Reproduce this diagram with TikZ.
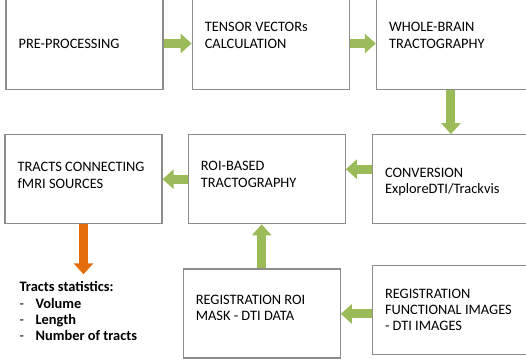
\documentclass[tikz,border=0pt]{standalone}
\usepackage{fontspec}
\setmainfont{Carlito}
\usepackage{tikz}
\usetikzlibrary{arrows.meta,positioning}
\definecolor{boxgray}{RGB}{140,140,140}
\definecolor{arrgreen}{RGB}{155,187,89}
\definecolor{arrorange}{RGB}{228,108,10}

\begin{document}
\begin{tikzpicture}[
    x=1pt, y=1pt,
    node distance=44pt and 26pt,
    every node/.style={font=\fontsize{14.4}{16.4}\selectfont},
    stage/.style={rectangle, draw=boxgray, line width=1.2pt, minimum width=157pt, minimum height=89pt, inner sep=0pt},
    intext/.style={align=left, anchor=west, inner sep=0pt, xshift=13pt},
    stats/.style={align=left, inner sep=0pt},
    garr/.style={-{Triangle[width=19pt,length=11pt]}, line width=9pt, arrgreen},
    oarr/.style={-{Triangle[width=19pt,length=11pt]}, line width=9pt, arrorange}
]
    \useasboundingbox (0,0) rectangle (526,-358);

    % first row
    \node[stage, minimum height=92pt, label={[intext]west:PRE-PROCESSING}] (pre) at (84.5,-43.5) {};
    \node[stage, minimum height=92pt, right=28pt of pre, label={[intext, yshift=8pt]west:TENSOR VECTORs\\CALCULATION}] (tensor) {};
    \node[stage, minimum height=92pt, right=of tensor, label={[intext, yshift=8pt]west:WHOLE-BRAIN\\TRACTOGRAPHY}] (whole) {};

    % second row
    \node[stage, below=of whole, xshift=-4pt, label={[intext, yshift=-2.5pt]west:CONVERSION\\ExploreDTI/Trackvis}] (conv) {};
    \node[stage, left=of conv, label={[intext, yshift=5pt]west:ROI-BASED\\TRACTOGRAPHY}] (roi) {};
    \node[stage, left=25pt of roi, label={[intext, yshift=4pt]west:TRACTS CONNECTING\\fMRI SOURCES}] (tracts) {};

    % third row
    \node[stage, below=of roi, xshift=-5pt, label={[intext, yshift=5.5pt]west:REGISTRATION ROI\\MASK - DTI DATA}] (regroi) {};
    \node[stage, right=31pt of regroi, yshift=3.5pt, label={[intext]west:REGISTRATION\\FUNCTIONAL IMAGES\\- DTI IMAGES}] (func) {};

    \node[stats, anchor=north west] (stats) at ([xshift=15pt,yshift=-57pt]tracts.south west)
        {\textbf{Tracts statistics:}\\
         \makebox[16pt][l]{-}\textbf{Volume}\\
         \makebox[16pt][l]{-}\textbf{Length}\\
         \makebox[16pt][l]{-}\textbf{Number of tracts}};

    \draw[garr] (pre) -- (tensor);
    \draw[garr] (tensor) -- (whole);
    \draw[garr] (whole.south -| conv.north) -- (conv.north);
    \draw[garr] ([yshift=10pt]conv.west) -- ([yshift=10pt]conv.west -| roi.east);
    \draw[garr] (roi.west) -- (roi.west -| tracts.east);
    \draw[garr] ([yshift=-4pt]func.west) -- ([yshift=-4pt]func.west -| regroi.east);
    \draw[garr] (regroi.north) -- (regroi.north |- roi.south);
    \draw[oarr] (tracts.south) -- ([yshift=7pt]tracts.south |- stats.north);
\end{tikzpicture}
\end{document}
